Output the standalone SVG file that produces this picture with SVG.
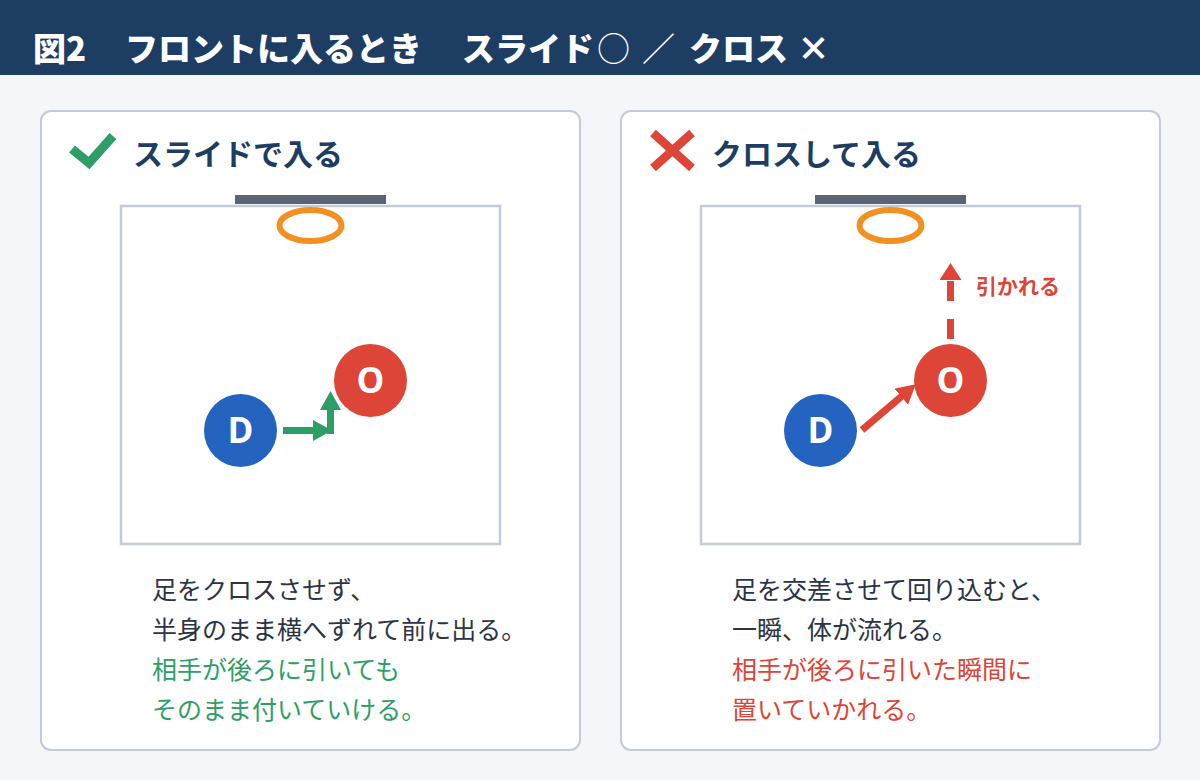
<svg xmlns="http://www.w3.org/2000/svg" width="1200" height="780" viewBox="0 0 1200 780">
  <defs>
    <style>
      .jp { font-family: "Noto Sans CJK JP", "Noto Sans", sans-serif; }
      .hdr { fill: #ffffff; font-size: 33px; font-weight: 900; }
      .ptitle { fill: #1e3d62; font-size: 30px; font-weight: 700; }
      .body { fill: #2b3445; font-size: 25px; }
      .good { fill: #2e9e68; }
      .bad { fill: #dc4538; }
      .panel { fill: #ffffff; stroke: #c3cad8; stroke-width: 2; }
      .court { fill: #ffffff; stroke: #c3cad8; stroke-width: 2.5; }
      .board { fill: #5a6475; }
      .hoop { fill: none; stroke: #f39021; stroke-width: 6; }
      .player { font-family: "Open Sans", "Noto Sans", sans-serif; font-size: 35px; font-weight: 700; fill: #ffffff; text-anchor: middle; }
      .def { fill: #2563c0; }
      .off { fill: #dc4538; }
    </style>
    <marker id="headG" markerUnits="userSpaceOnUse" markerWidth="20" markerHeight="22" refX="1" refY="10.5" orient="auto">
      <path d="M0,0 L19,10.5 L0,21 z" fill="#2e9e68"/>
    </marker>
    <marker id="headR" markerUnits="userSpaceOnUse" markerWidth="20" markerHeight="22" refX="1" refY="10.5" orient="auto">
      <path d="M0,0 L19,10.5 L0,21 z" fill="#dc4538"/>
    </marker>
    <marker id="headRd" markerUnits="userSpaceOnUse" markerWidth="18" markerHeight="23" refX="1" refY="11" orient="auto">
      <path d="M0,0 L17,11 L0,22 z" fill="#dc4538"/>
    </marker>
  </defs>

  <rect x="0" y="0" width="1200" height="780" fill="#f4f6fa"/>

  <g id="header">
    <rect x="0" y="0" width="1200" height="75" fill="#1e3d62"/>
    <text class="jp hdr" y="61"><tspan x="33">図2</tspan><tspan x="125">フロントに入るとき</tspan><tspan x="462">スライド</tspan><tspan x="597" font-weight="400">○</tspan><tspan x="642" font-weight="400">／</tspan><tspan x="689">クロス</tspan><tspan x="797">×</tspan></text>
  </g>

  <g id="panel-slide">
    <rect class="panel" x="41" y="111" width="539" height="639" rx="10"/>
    <polyline points="72,149 89,163 113,136" fill="none" stroke="#2e9e68" stroke-width="9"/>
    <text class="jp ptitle" x="133" y="165">スライドで入る</text>
    <rect class="court" x="121" y="206" width="379" height="338"/>
    <rect class="board" x="235" y="195" width="151" height="9"/>
    <ellipse class="hoop" cx="310.5" cy="225.5" rx="31" ry="15.5"/>
    <text class="jp body" x="152" y="599">足をクロスさせず、</text>
    <text class="jp body" x="152" y="639">半身のまま横へずれて前に出る。</text>
    <text class="jp body good" x="152" y="679">相手が後ろに引いても</text>
    <text class="jp body good" x="152" y="719">そのまま付いていける。</text>
  </g>

  <g id="panel-cross">
    <rect class="panel" x="621" y="111" width="539" height="639" rx="10"/>
    <line x1="653" y1="133" x2="692" y2="168" stroke="#dc4538" stroke-width="8.5"/>
    <line x1="692" y1="133" x2="653" y2="168" stroke="#dc4538" stroke-width="8.5"/>
    <text class="jp ptitle" x="712" y="165">クロスして入る</text>
    <rect class="court" x="701" y="206" width="379" height="338"/>
    <rect class="board" x="815" y="195" width="151" height="9"/>
    <ellipse class="hoop" cx="890.5" cy="225.5" rx="31" ry="15.5"/>
    <text class="jp bad" x="976" y="294" font-size="21" font-weight="700">引かれる</text>
    <text class="jp body" x="732" y="599">足を交差させて回り込むと、</text>
    <text class="jp body" x="732" y="639">一瞬、体が流れる。</text>
    <text class="jp body bad" x="732" y="679">相手が後ろに引いた瞬間に</text>
    <text class="jp body bad" x="732" y="719">置いていかれる。</text>
  </g>

  <g id="connectors">
    <line x1="283" y1="430.5" x2="314" y2="430.5" stroke="#2e9e68" stroke-width="7" marker-end="url(#headG)"/>
    <line x1="330.5" y1="434" x2="330.5" y2="409" stroke="#2e9e68" stroke-width="7" marker-end="url(#headG)"/>
    <line x1="862" y1="430" x2="902" y2="396" stroke="#dc4538" stroke-width="7" marker-end="url(#headR)"/>
    <line x1="950.5" y1="339" x2="950.5" y2="279" stroke="#dc4538" stroke-width="7" stroke-dasharray="20 18" marker-end="url(#headRd)"/>
  </g>

  <g id="node-D-left">
    <circle class="def" cx="240.5" cy="430.5" r="36.5"/>
    <text class="player" x="240.5" y="443">D</text>
  </g>
  <g id="node-O-left">
    <circle class="off" cx="370.5" cy="380.5" r="36.5"/>
    <text class="player" x="370.5" y="393">O</text>
  </g>
  <g id="node-D-right">
    <circle class="def" cx="820.5" cy="430.5" r="36.5"/>
    <text class="player" x="820.5" y="443">D</text>
  </g>
  <g id="node-O-right">
    <circle class="off" cx="950.5" cy="380.5" r="36.5"/>
    <text class="player" x="950.5" y="393">O</text>
  </g>
</svg>
